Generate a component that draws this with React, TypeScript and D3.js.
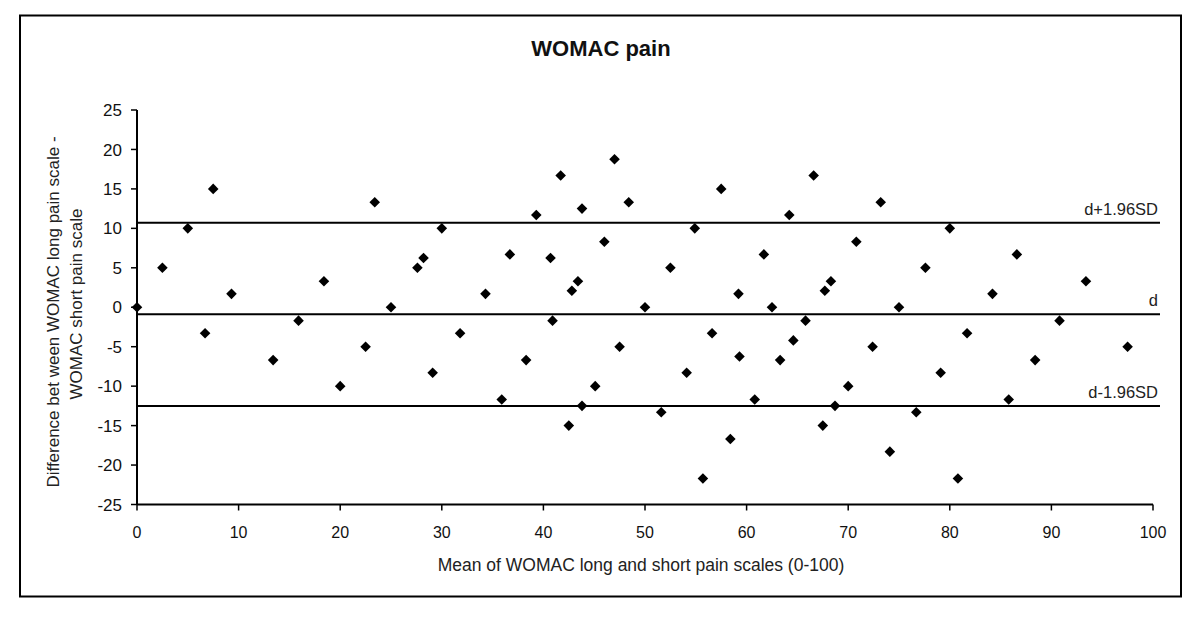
import React from "react";
import * as d3 from "d3";

const meanValues = [
  0, 2.5, 5, 6.7, 7.5, 9.3, 13.4, 15.9, 18.4, 20, 22.5, 23.4, 25, 27.6, 28.2, 29.1, 30, 31.8, 34.3, 35.9,
  36.7, 38.3, 39.3, 40.7, 40.9, 41.7, 42.5, 42.8, 43.4, 43.8, 43.8, 45.1, 46, 47, 47.5, 48.4, 50, 51.6,
  52.5, 54.1, 54.9, 55.7, 56.6, 57.5, 58.4, 59.2, 59.3, 60.8, 61.7, 62.5, 63.3, 64.2, 64.6, 65.8, 66.6,
  67.5, 67.7, 68.3, 68.7, 70, 70.8, 72.4, 73.2, 74.1, 75, 76.7, 77.6, 79.1, 80, 80.8, 81.7, 84.2, 85.8,
  86.6, 88.4, 90.8, 93.4, 97.5,
];
const diffValues = [
  0, 5, 10, -3.3, 15, 1.7, -6.7, -1.7, 3.3, -10, -5, 13.3, 0, 5, 6.25, -8.3, 10, -3.3, 1.7, -11.7,
  6.7, -6.7, 11.7, 6.25, -1.7, 16.7, -15, 2.1, 3.3, 12.5, -12.5, -10, 8.3, 18.75, -5, 13.3, 0, -13.3,
  5, -8.3, 10, -21.7, -3.3, 15, -16.7, 1.7, -6.25, -11.7, 6.7, 0, -6.7, 11.7, -4.2, -1.7, 16.7,
  -15, 2.1, 3.3, -12.5, -10, 8.3, -5, 13.3, -18.3, 0, -13.3, 5, -8.3, 10, -21.7, -3.3, 1.7, -11.7,
  6.7, -6.7, -1.7, 3.3, -5,
];
const refLabels = ["d+1.96SD", "d", "d-1.96SD"];
const refValues = [10.7, -0.9, -12.5];
const xTicks = [0, 10, 20, 30, 40, 50, 60, 70, 80, 90, 100];
const yTicks = [25, 20, 15, 10, 5, 0, -5, -10, -15, -20, -25];

const title = "WOMAC pain";
const xTitle = "Mean of WOMAC long and short pain scales (0-100)";
const yTitle1 = "Difference bet ween WOMAC long pain scale -";
const yTitle2 = "WOMAC short pain scale";

const FONT = "'Liberation Sans', Arial, sans-serif";

export default function App() {
  const x = d3.scaleLinear().domain([0, 100]).range([137, 1153]);
  const y = d3.scaleLinear().domain([-25, 25]).range([504.5, 110]);
  const marker = d3.symbol(d3.symbolSquare, 56)() as string;
  const points = meanValues.map((m, i) => ({ m, d: diffValues[i] }));

  return (
    <svg
      width={1200}
      height={619}
      style={{ position: "absolute", left: 0, top: 0, background: "#fff" }}
      fontFamily={FONT}
    >
      <rect x={0} y={0} width={1200} height={619} fill="#fff" />
      <rect x={20} y={15.5} width={1161} height={581} fill="none" stroke="#000" strokeWidth={2} />

      <text x={601} y={55.5} textAnchor="middle" fontSize={22} fontWeight="bold" fill="#111">
        {title}
      </text>

      {/* Y axis */}
      <line x1={x(0)} x2={x(0)} y1={y(25)} y2={y(-25)} stroke="#000" strokeWidth={2} />
      {yTicks.map((t) => (
        <g key={"yt" + t}>
          <line x1={x(0) - 6} x2={x(0)} y1={y(t)} y2={y(t)} stroke="#000" strokeWidth={1.5} />
          <text x={122} y={y(t)} dy="0.36em" textAnchor="end" fontSize={17} fill="#111">
            {t}
          </text>
        </g>
      ))}

      {/* X axis */}
      <line x1={x(0)} x2={x(100)} y1={y(-25)} y2={y(-25)} stroke="#000" strokeWidth={2} />
      {xTicks.map((t) => (
        <g key={"xt" + t}>
          <line x1={x(t)} x2={x(t)} y1={y(-25)} y2={y(-25) + 6} stroke="#000" strokeWidth={1.5} />
          <text x={x(t)} y={538} textAnchor="middle" fontSize={16} fill="#111">
            {t}
          </text>
        </g>
      ))}

      {/* Reference lines */}
      {refValues.map((v, i) => (
        <g key={"ref" + i}>
          <line x1={x(0)} x2={1160} y1={y(v)} y2={y(v)} stroke="#000" strokeWidth={2} />
          <text x={1158} y={y(v) - 8} textAnchor="end" fontSize={16.5} fill="#222">
            {refLabels[i]}
          </text>
        </g>
      ))}

      {/* Points */}
      {points.map((p, i) => (
        <path
          key={"p" + i}
          d={marker}
          transform={`translate(${x(p.m)},${y(p.d)}) rotate(45)`}
          fill="#000"
        />
      ))}

      {/* Axis titles */}
      <text x={641} y={571} textAnchor="middle" fontSize={17.5} fill="#222">
        {xTitle}
      </text>
      <text
        transform={`translate(59,312) rotate(-90)`}
        textAnchor="middle"
        fontSize={17}
        fill="#222"
      >
        {yTitle1}
      </text>
      <text
        transform={`translate(81.5,304) rotate(-90)`}
        textAnchor="middle"
        fontSize={17}
        fill="#222"
      >
        {yTitle2}
      </text>
    </svg>
  );
}
